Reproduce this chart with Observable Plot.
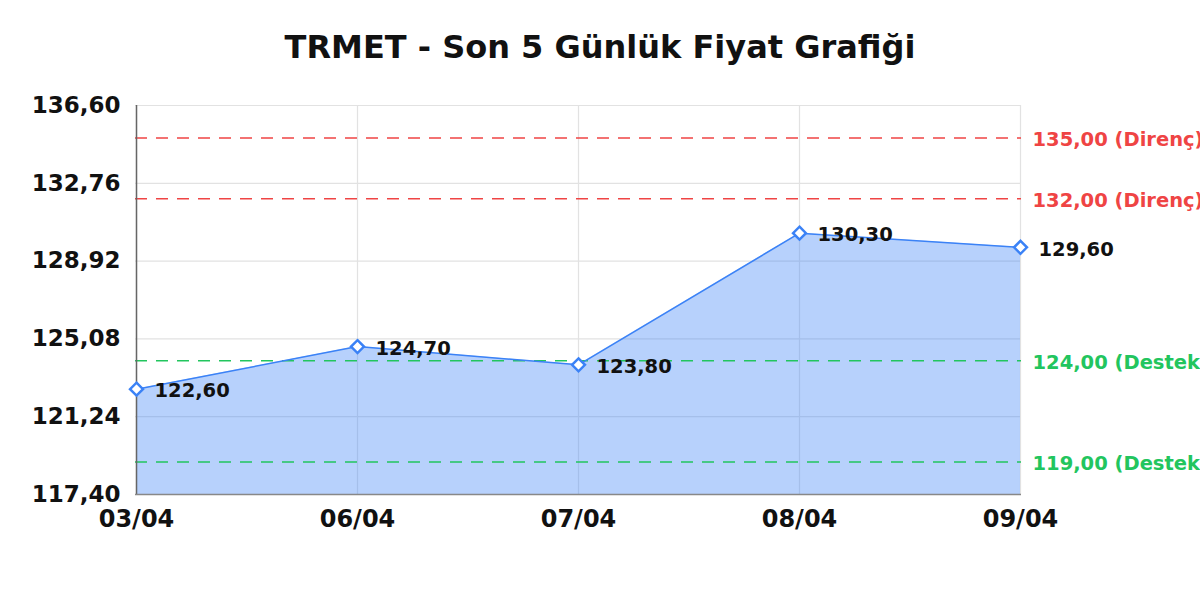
<!DOCTYPE html>
<html>
<head>
<meta charset="utf-8">
<script src="https://cdn.jsdelivr.net/npm/d3@7"></script>
<script src="https://cdn.jsdelivr.net/npm/@observablehq/plot@0.6"></script>
<style>
  html, body { margin: 0; padding: 0; background: #fff; overflow: hidden; }
  #title { height: 48px; padding-top: 32px; font: bold 32px/30px "DejaVu Sans", sans-serif; text-align: center; color: #111; width: 1200px; }
</style>
</head>
<body>
<div id="title">TRMET - Son 5 Günlük Fiyat Grafiği</div>
<div id="chart"></div>
<script>
const dates = ["03/04", "06/04", "07/04", "08/04", "09/04"];
const prices = [122.60, 124.70, 123.80, 130.30, 129.60];
const resistance = [135.00, 132.00];
const support = [124.00, 119.00];
const yDomain = [117.40, 136.60];
const yTicks = [117.40, 121.24, 125.08, 128.92, 132.76, 136.60];

const fmt = v => v.toFixed(2).replace(".", ",");
const data = dates.map((d, i) => ({date: d, price: prices[i]}));
const levels = [
  ...resistance.map(v => ({value: v, label: fmt(v) + " (Direnç)", color: "#ef4444"})),
  ...support.map(v => ({value: v, label: fmt(v) + " (Destek)", color: "#22c55e"}))
];
const lastDate = dates[dates.length - 1];
const blue = "#3b82f6";

const plot = Plot.plot({
  width: 1200,
  height: 520,
  marginTop: 25,
  marginBottom: 106,
  marginLeft: 135,
  marginRight: 179,
  style: {fontFamily: "DejaVu Sans, sans-serif", background: "#fff", color: "#111", overflow: "hidden"},
  x: {type: "point", domain: dates, padding: 0},
  y: {domain: yDomain},
  marks: [
    Plot.gridY(yTicks, {stroke: "#e2e2e2", strokeOpacity: 1, strokeWidth: 1.2}),
    Plot.gridX(dates, {stroke: "#e2e2e2", strokeOpacity: 1, strokeWidth: 1.2}),
    Plot.areaY(data, {x: "date", y1: yDomain[0], y2: "price", fill: blue, fillOpacity: 0.37}),
    Plot.ruleY(levels, {y: "value", stroke: "color", strokeDasharray: "12,9", strokeWidth: 1.5}),
    Plot.lineY(data, {x: "date", y: "price", stroke: blue, strokeWidth: 1.5}),
    Plot.ruleX([dates[0]], {stroke: "#666", strokeWidth: 1.5}),
    Plot.ruleY([yDomain[0]], {stroke: "#888", strokeWidth: 1.5}),
    Plot.text(levels, {x: () => lastDate, y: "value", text: "label", fill: "color", textAnchor: "start", dx: 12, dy: 2, fontSize: 19.5, fontWeight: "bold"}),
    Plot.dot(data, {x: "date", y: "price", symbol: "diamond2", r: 5.8, stroke: blue, fill: "white", strokeWidth: 2.5}),
    Plot.text(data, {x: "date", y: "price", text: d => fmt(d.price), textAnchor: "start", dx: 18, dy: 2, fontSize: 19.5, fontWeight: "bold", fill: "#111"}),
    Plot.axisY(yTicks, {tickSize: 0, tickPadding: 15, tickFormat: fmt, fontSize: 23, fontWeight: "bold", fill: "#111"}),
    Plot.axisX(dates, {tickSize: 0, tickPadding: 15, fontSize: 24, fontWeight: "bold", fill: "#111", label: null})
  ]
});
document.getElementById("chart").appendChild(plot);
</script>
</body>
</html>
